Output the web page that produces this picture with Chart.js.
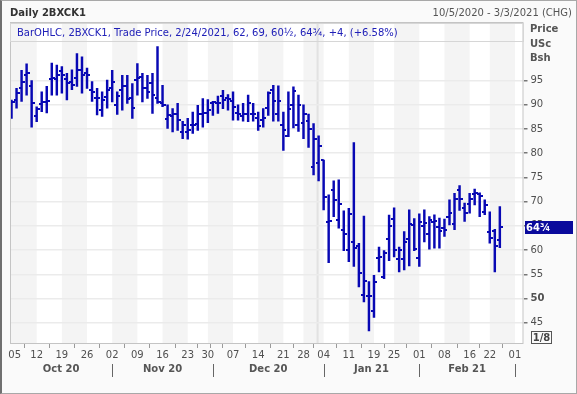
<!DOCTYPE html>
<html><head><meta charset="utf-8">
<script src="https://cdn.jsdelivr.net/npm/chart.js@4.4.0/dist/chart.umd.min.js"></script>
<style>
html,body{margin:0;padding:0;background:#fafafa;}
#wrap{position:relative;width:577px;height:394px;overflow:hidden;font-family:"DejaVu Sans",sans-serif;background:#fafafa;}
canvas{position:absolute;left:0;top:0;}
.t{position:absolute;white-space:nowrap;}
</style></head><body>
<div id="wrap">
<canvas id="c" width="577" height="394"></canvas>
<div class="t" style="left:10px;top:7px;font-weight:bold;font-size:10px;color:#333">Daily 2BXCK1</div>
<div class="t" style="right:5px;top:7px;font-size:10px;color:#555">10/5/2020 - 3/3/2021 (CHG)</div>
<div class="t" id="legend" style="left:10px;top:23px;width:514px;height:19px;border:1px solid #d6d6d6;box-sizing:border-box;font-size:10px;color:#2020b8;line-height:17px;padding-left:6px;"></div>
<div class="t" style="left:530px;top:22px;font-weight:bold;font-size:10px;color:#555;line-height:14.5px">Price<br>USc<br>Bsh</div>
<div class="t" id="tag" style="left:525px;width:48px;height:13px;background:#0a0a9c;color:#fff;font-weight:bold;font-size:10px;line-height:13px;padding-left:1px;box-sizing:border-box"></div>
<div class="t" style="left:531px;top:331px;width:21px;height:13px;border:1px solid #555;box-sizing:border-box;font-weight:bold;font-size:10px;color:#444;line-height:11px;text-align:center">1/8</div>
<div class="t" style="left:0;top:0;width:577px;height:394px;box-sizing:border-box;border:1px solid #a8a8a8;border-left:2px solid #707070;pointer-events:none"></div>
</div>
<script>
// ---- data ----
const dates = [
"2020-10-05","2020-10-06","2020-10-07","2020-10-08","2020-10-09","2020-10-12","2020-10-13","2020-10-14","2020-10-15","2020-10-16",
"2020-10-19","2020-10-20","2020-10-21","2020-10-22","2020-10-23","2020-10-26","2020-10-27","2020-10-28","2020-10-29","2020-10-30",
"2020-11-02","2020-11-03","2020-11-04","2020-11-05","2020-11-06","2020-11-09","2020-11-10","2020-11-11","2020-11-12","2020-11-13",
"2020-11-16","2020-11-17","2020-11-18","2020-11-19","2020-11-20","2020-11-23","2020-11-24","2020-11-25","2020-11-27","2020-11-30",
"2020-12-01","2020-12-02","2020-12-03","2020-12-04","2020-12-07","2020-12-08","2020-12-09","2020-12-10","2020-12-11","2020-12-14",
"2020-12-15","2020-12-16","2020-12-17","2020-12-18","2020-12-21","2020-12-22","2020-12-23","2020-12-24","2020-12-28","2020-12-29",
"2020-12-30","2020-12-31","2021-01-04","2021-01-05","2021-01-06","2021-01-07","2021-01-08","2021-01-11","2021-01-12","2021-01-13",
"2021-01-14","2021-01-15","2021-01-19","2021-01-20","2021-01-21","2021-01-22","2021-01-25","2021-01-26","2021-01-27","2021-01-28",
"2021-01-29","2021-02-01","2021-02-02","2021-02-03","2021-02-04","2021-02-05","2021-02-08","2021-02-09","2021-02-10","2021-02-11",
"2021-02-12","2021-02-16","2021-02-17","2021-02-18","2021-02-19","2021-02-22","2021-02-23","2021-02-24"];
const opens = [
88.95,91.0,93.4,96.2,93.8,87.6,90.2,90.5,95.3,95.3,
96.9,95.3,94.8,95.5,97.2,96.5,93.1,91.4,88.9,91.7,
93.5,90.0,93.0,93.9,91.4,95.1,95.8,93.5,94.6,91.5,
90.3,87.0,87.7,88.0,84.4,84.4,85.8,86.1,88.2,88.4,
90.3,90.4,91.8,91.4,90.7,88.4,87.7,88.2,88.2,87.3,
86.8,89.4,93.0,88.2,85.8,83.6,89.9,85.8,86.2,86.7,
77.1,77.9,78.6,65.7,72.5,66.2,64.1,60.0,61.7,60.8,
50.8,50.6,47.4,58.4,54.4,62.3,66.4,58.2,58.2,62.2,
65.2,58.3,65.0,63.3,65.7,64.7,64.5,66.9,65.4,72.4,
68.6,69.5,71.6,71.5,67.9,63.8,64.0,62];
const highs = [
91.0,93.4,97.1,98.45,95.0,89.6,92.7,93.8,98.6,98.2,
97.9,96.5,97.2,100.6,99.9,97.6,94.8,93.4,92.7,95.1,
97.1,92.7,96.1,96.1,94.4,98.5,96.5,96.1,96.5,102.0,
94.0,90.0,89.2,90.3,86.6,87.2,88.5,89.9,91.3,91.1,
90.7,91.8,93.0,92.1,92.7,90.0,90.3,92.0,90.3,88.5,
89.2,92.7,94.0,93.9,88.5,92.7,93.7,92.0,90.0,88.1,
86.1,83.6,78.6,71.4,74.3,74.5,68.1,68.6,82.2,61.4,
67.0,53.5,54.8,60.6,59.9,67.2,68.7,60.6,63.8,68.3,
66.5,67.5,68.3,66.9,67.3,66.6,66.4,70.4,71.7,73.3,
69.7,71.7,72.6,71.8,70.4,67.9,64.3,69];
const lows = [
87.2,89.3,90.7,92.0,85.4,86.5,88.6,88.3,92.0,92.0,
92.4,91.0,93.1,93.8,92.4,93.4,90.7,87.9,87.6,89.3,
90.6,88.0,88.9,90.3,87.2,92.0,90.6,91.3,88.2,90.3,
89.6,85.1,84.4,84.7,83.0,82.9,84.1,84.7,85.4,86.3,
87.8,88.2,89.2,88.9,86.8,86.8,86.6,86.5,86.6,84.7,
85.4,87.8,86.6,86.6,80.6,83.4,85.2,84.5,83.0,81.2,
75.5,74.3,68.3,57.4,66.9,64.5,59.9,57.6,56.6,52.4,
49.3,43.3,46.1,55.5,54.1,57.8,58.6,55.5,55.9,56.7,
59.9,56.6,61.7,60.2,60.4,60.4,62.8,65.2,64.2,68.2,
65.9,67.6,69.3,66.9,67.3,61.4,55.5,60.5];
const closes = [
90.5,92.4,94.8,96.5,90.3,89.1,90.5,90.7,95.5,96.2,
96.2,94.5,94.1,97.2,96.2,96.2,92.7,91.4,91.0,93.1,
94.7,91.8,93.9,91.3,89.4,95.6,93.5,92.7,92.0,90.6,
90.0,87.8,88.1,86.8,85.8,84.7,85.9,88.2,88.4,89.0,
90.6,90.3,90.9,91.3,89.6,88.0,88.0,90.3,88.0,85.6,
87.2,92.5,90.7,90.7,84.7,89.2,92.8,90.0,88.0,85.0,
82.9,81.5,70.9,66.0,70.3,69.5,63.3,67.5,60.4,55.2,
53.6,50.5,53.4,58.6,59.3,65.0,60.0,60.0,61.6,65.3,
60.2,65.8,65.6,66.2,65.9,64.0,64.2,67.7,70.5,70.5,
67.6,70.5,71.7,71.2,69.3,62.4,60.75,64.75];
// axis / calendar arrays (trading-day index space, axis runs to 3/3/2021)
const dayTickIdx = [0,5,10,15,20,25,30,35,39,40,44,49,54,58,62,67,72,76,81,86,91,95,100];
const dayTickLbl = ["\u00a0\u00a005","12","19","26","02","09","16","23","30","","07","14","21","28","04","11","19","25","01","08","16","22","01"];
const monthStartIdx = [20,40,62,81,100];
const monthMidIdx = [9.85,30,51,71.5,90.5];
const monthLbl = ["Oct 20","Nov 20","Dec 20","Jan 21","Feb 21"];
const shadeFrom = [-0.3,10,20,30,39,49,58,67,76,86,95];
const shadeTo   = [5,15,25,35,44,54,62,72,81,91,100];
const yearBreakIdx = 60.8;
const yTicks = [45,50,55,60,65,70,75,80,85,90,95];
const X_MIN = -0.3, X_MAX = 101.7, Y_MIN = 40.6, Y_MAX = 107.1;

// ---- helpers ----
const BAR = '#0808b4';
function frac(v){const w=Math.floor(v);const f=Math.round((v-w)*4);return w+(['','¼','½','¾'][f]);}
function tickImg(left){const c=document.createElement('canvas');c.width=6;c.height=2;const g=c.getContext('2d');g.fillStyle=BAR;g.fillRect(left?0:3,0,3,2);return c;}
const last = dates.length-1;
const chg = closes[last]-closes[last-1];
const dd = dates[last].split('-');
document.getElementById('legend').textContent =
 `BarOHLC, 2BXCK1, Trade Price, ${+dd[1]}/${+dd[2]}/${dd[0]}, ${frac(opens[last])}, ${frac(highs[last])}, ${frac(lows[last])}, ${frac(closes[last])}, ${chg>=0?'+':''}${frac(chg)}, (${chg>=0?'+':''}${(chg/closes[last-1]*100).toFixed(2)}%)`;

const bg = {
 id:'bg',
 beforeDraw(ch){
  const {ctx, chartArea:a, scales:{x}} = ch;
  ctx.save();
  ctx.fillStyle='#ffffff'; ctx.fillRect(a.left,a.top,a.right-a.left,a.bottom-a.top);
  ctx.fillStyle='#f4f4f4';
  shadeFrom.forEach((s,k)=>{const x0=Math.max(a.left,x.getPixelForValue(s)),x1=Math.min(a.right,x.getPixelForValue(shadeTo[k]));ctx.fillRect(x0,a.top,x1-x0,a.bottom-a.top);});
  ctx.fillStyle='#e2e2e2';
  const yb=x.getPixelForValue(yearBreakIdx); ctx.fillRect(yb-1,a.top,2,a.bottom-a.top);
  ctx.restore();
 },
 afterDraw(ch){
  const {ctx, chartArea:a, scales:{x}} = ch;
  ctx.save();
  ctx.strokeStyle='#c4c4c4'; ctx.lineWidth=1;
  ctx.strokeRect(a.left+0.5,a.top+0.5,a.right-a.left-1,a.bottom-a.top-1);
  ctx.strokeStyle='#666';
  monthStartIdx.forEach(m=>{const px=Math.round(x.getPixelForValue(m))+0.5;ctx.beginPath();ctx.moveTo(px,364);ctx.lineTo(px,377);ctx.stroke();});
  ctx.restore();
 }
};

const font = {family:'DejaVu Sans', size:10};
const chart = new Chart(document.getElementById('c'), {
 type:'bar',
 data:{datasets:[
  {type:'bar', data: lows.map((l,i)=>({x:i,y:[l,highs[i]]})), backgroundColor:BAR, borderWidth:0, barThickness:1.8, grouped:false, order:3},
  {type:'line', data: opens.map((v,i)=>({x:i,y:v})), showLine:false, pointStyle:tickImg(true), pointRadius:3, order:2},
  {type:'line', data: closes.map((v,i)=>({x:i,y:v})), showLine:false, pointStyle:tickImg(false), pointRadius:3, order:1}
 ]},
 options:{
  responsive:false, animation:false, devicePixelRatio:1, events:[],
  layout:{padding:{left:10, top:22, right:0, bottom:0}},
  plugins:{legend:{display:false}, tooltip:{enabled:false}},
  scales:{
   x:{type:'linear', position:'bottom', min:X_MIN, max:X_MAX, offset:false,
      afterBuildTicks:s=>{s.ticks=dayTickIdx.map(v=>({value:v}));},
      ticks:{autoSkip:false, maxRotation:0, padding:1, color:'#505050', font, callback:(v,i)=>dayTickLbl[i]},
      grid:{drawOnChartArea:false, drawTicks:true, tickLength:4, tickColor:'#9a9a9a', color:'#9a9a9a'},
      border:{display:false},
      afterFit:s=>{s.height=18;}},
   x2:{type:'linear', position:'bottom', min:X_MIN, max:X_MAX, offset:false,
      afterBuildTicks:s=>{s.ticks=monthMidIdx.map(v=>({value:v}));},
      ticks:{autoSkip:false, maxRotation:0, padding:1, color:'#555', font:{family:'DejaVu Sans', size:10, weight:'bold'}, callback:(v,i)=>monthLbl[i]},
      grid:{display:false, drawTicks:false},
      border:{display:false},
      afterFit:s=>{s.height=32;}},
   y:{type:'linear', position:'right', min:Y_MIN, max:Y_MAX,
      afterBuildTicks:s=>{s.ticks=yTicks.map(v=>({value:v}));},
      ticks:{padding:3, color:'#505050', font:c=>({family:'DejaVu Sans', size:10, weight:(c.tick&&c.tick.value===50)?'bold':'normal'})},
      grid:{color:'#ebebeb', lineWidth:1.5, tickLength:4, tickColor:'#777'},
      border:{display:false},
      afterFit:s=>{s.width=53.5;}}
  }
 },
 plugins:[bg]
});
const py = chart.scales.y.getPixelForValue(closes[last]);
const tag = document.getElementById('tag');
tag.style.top = (py-6.5)+'px';
tag.textContent = frac(closes[last]);
</script>
</body></html>
